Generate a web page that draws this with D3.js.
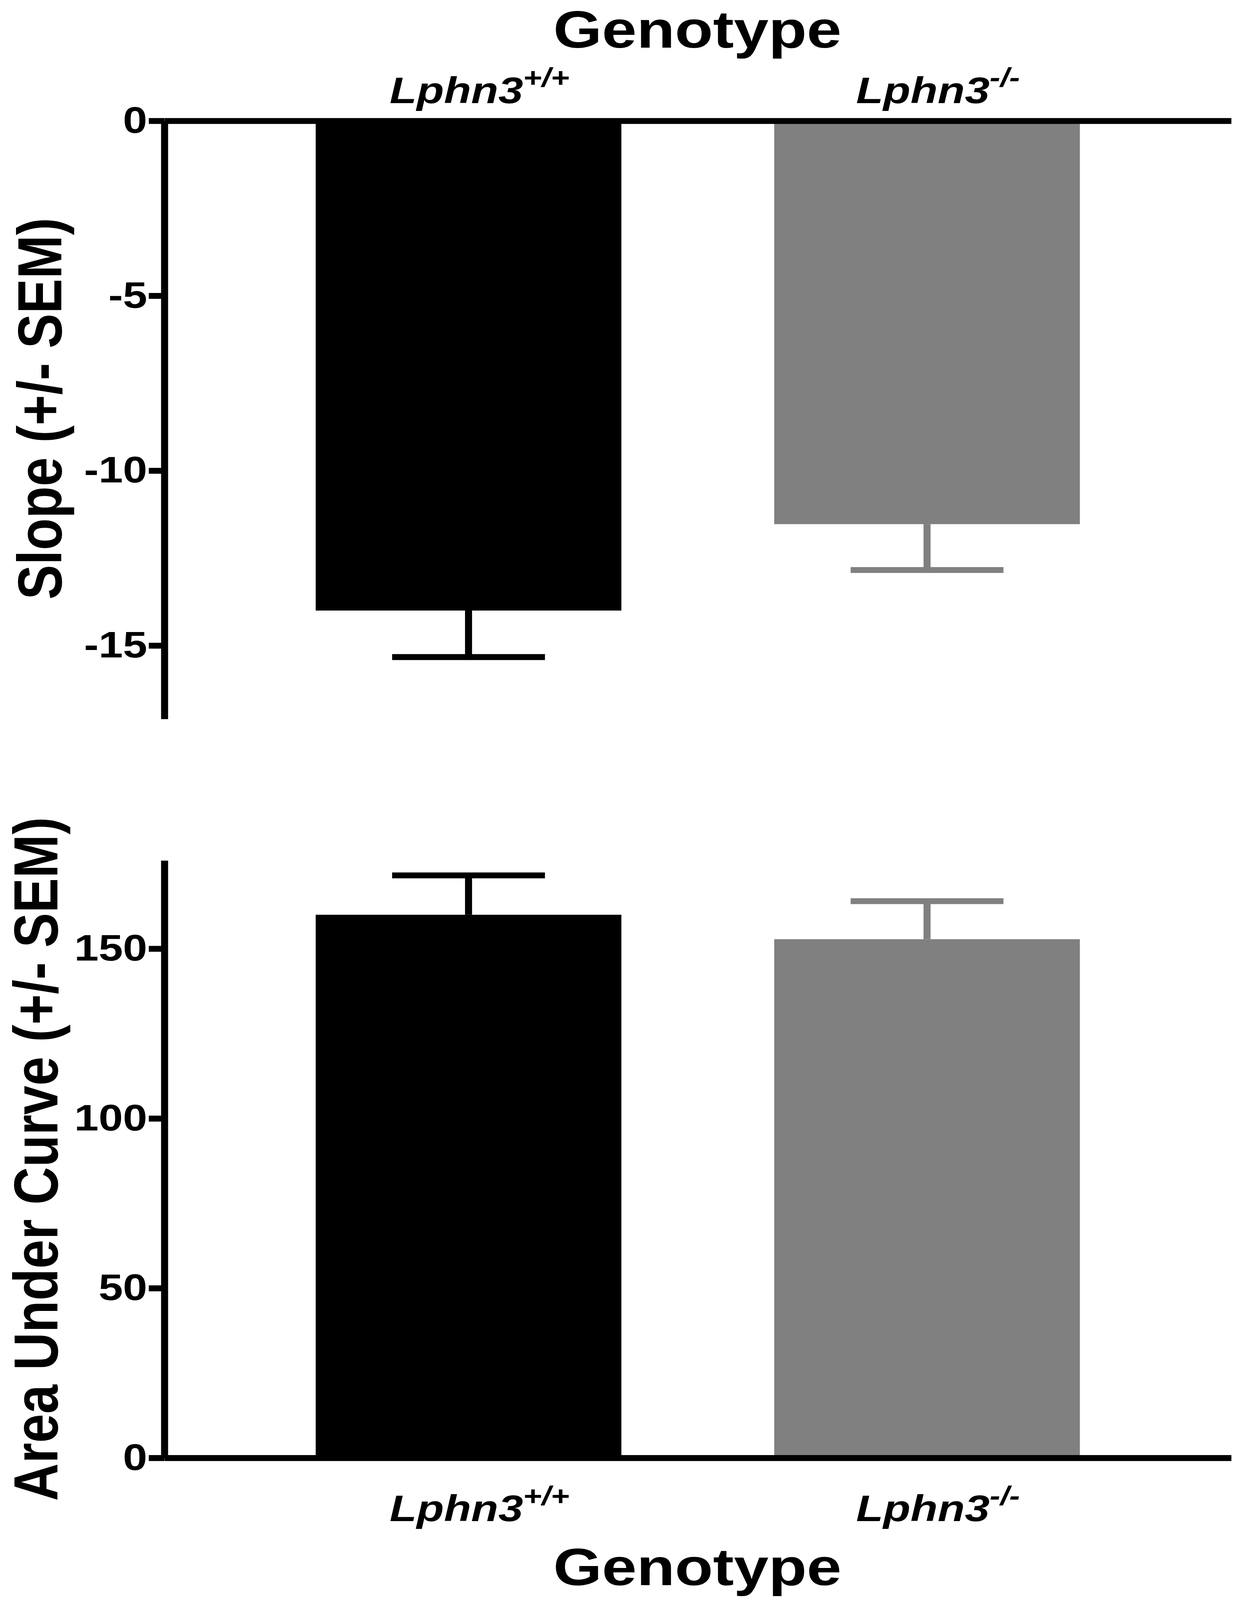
<!DOCTYPE html>
<html>
<head>
<meta charset="utf-8">
<script src="https://cdn.jsdelivr.net/npm/d3@7"></script>
<style>
  html, body { margin: 0; padding: 0; background: #fff; overflow: hidden; }
  svg { display: block; }
  text { font-family: "Liberation Sans", Arial, sans-serif; font-weight: bold; fill: #000; }
</style>
</head>
<body>
<div id="chart"></div>
<script>
// groups and colours
const genotypes = ['Lphn3', 'Lphn3'];
const superscripts = ['+/+', '-/-'];
const barColors = ['#000000', '#808080'];

// top panel: slope
const slopeMean = [-14.0, -11.53];
const slopeSem = [1.33, 1.31];
const slopeTicks = [0, -5, -10, -15];

// bottom panel: area under curve
const aucMean = [160.0, 152.8];
const aucSem = [11.6, 11.2];
const aucTicks = [0, 50, 100, 150];

// drawing is laid out on the 3173x4898 figure and scaled to the window
const width = 3173, height = 4898;
const axisW = 18;

const svg = d3.select('#chart')
    .append('svg')
    .attr('viewBox', `0 0 ${width} ${height}`)
    .attr('preserveAspectRatio', 'none')
    .style('width', '100vw')
    .style('height', '100vh');

svg.append('rect')
    .attr('width', width)
    .attr('height', height)
    .attr('fill', '#fff');

const x = d3.scaleBand()
    .domain([0, 1])
    .range([421, 3153])
    .paddingInner(1 / 3)
    .paddingOuter(0.33);

// draws one bar panel
function drawPanel(opts) {
    const g = svg.append('g');
    const y = d3.scaleLinear().domain(opts.domain).range(opts.range);

    // bars
    g.selectAll('.bar')
        .data(opts.mean)
        .enter().append('rect')
        .attr('class', 'bar')
        .attr('x', (d, i) => x(i))
        .attr('width', x.bandwidth())
        .attr('y', d => Math.min(y(d), y(0)))
        .attr('height', d => Math.abs(y(d) - y(0)))
        .attr('fill', (d, i) => barColors[i]);

    // error bars (one direction, away from zero)
    const err = g.selectAll('.err')
        .data(opts.mean)
        .enter().append('g')
        .attr('class', 'err')
        .attr('stroke', (d, i) => barColors[i])
        .attr('stroke-width', axisW);

    err.append('line')
        .attr('x1', (d, i) => x(i) + x.bandwidth() / 2)
        .attr('x2', (d, i) => x(i) + x.bandwidth() / 2)
        .attr('y1', d => y(d))
        .attr('y2', (d, i) => y(d + Math.sign(d) * opts.sem[i]));

    err.append('line')
        .attr('x1', (d, i) => x(i) + x.bandwidth() / 4)
        .attr('x2', (d, i) => x(i) + x.bandwidth() * 3 / 4)
        .attr('y1', (d, i) => y(d + Math.sign(d) * opts.sem[i]))
        .attr('y2', (d, i) => y(d + Math.sign(d) * opts.sem[i]));

    // y axis
    const yAxis = g.append('g')
        .attr('transform', 'translate(421,0)')
        .call(d3.axisLeft(y)
            .tickValues(opts.ticks)
            .tickFormat(d => String(d))
            .tickSize(40).tickSizeOuter(0).tickPadding(4));
    yAxis.selectAll('path, line').attr('stroke', '#000').attr('stroke-width', axisW);
    yAxis.selectAll('text').attr('font-size', 112).attr('fill', '#000');

    // x axis at zero, labels above or below
    const xAxisFn = opts.labelsTop ? d3.axisTop(x) : d3.axisBottom(x);
    const xAxis = g.append('g')
        .attr('transform', `translate(0,${y(0)})`)
        .call(xAxisFn.tickSize(0).tickSizeOuter(0).tickFormat(''));
    xAxis.select('.domain').attr('stroke', '#000').attr('stroke-width', axisW);

    xAxis.selectAll('.tick text').remove();
    const lab = xAxis.selectAll('.tick')
        .append('text')
        .attr('x', 28)
        .attr('y', opts.labelY - y(0))
        .attr('text-anchor', 'middle')
        .attr('font-size', 114)
        .attr('font-style', 'italic');
    lab.append('tspan').text((d, i) => genotypes[i]);
    lab.append('tspan')
        .attr('font-size', 82)
        .attr('dy', -50)
        .text((d, i) => superscripts[i]);

    // genotype title
    g.append('text')
        .attr('x', 1786)
        .attr('y', opts.titleY)
        .attr('text-anchor', 'middle')
        .attr('font-size', 160)
        .text('Genotype');

    // y axis title
    g.append('text')
        .attr('transform', `translate(${opts.yTitleX},${opts.yTitleMid}) rotate(-90)`)
        .attr('text-anchor', 'middle')
        .attr('font-size', 160)
        .text(opts.yTitle);
}

drawPanel({
    mean: slopeMean, sem: slopeSem, ticks: slopeTicks,
    domain: [0, -17.1], range: [370, 2201],
    labelsTop: true, labelY: 316, titleY: 146,
    yTitle: 'Slope (+/- SEM)', yTitleX: 157, yTitleMid: 1251
});

drawPanel({
    mean: aucMean, sem: aucSem, ticks: aucTicks,
    domain: [0, 176], range: [4463, 2634],
    labelsTop: false, labelY: 4657, titleY: 4853,
    yTitle: 'Area Under Curve (+/- SEM)', yTitleX: 147, yTitleMid: 3548
});
</script>
</body>
</html>
